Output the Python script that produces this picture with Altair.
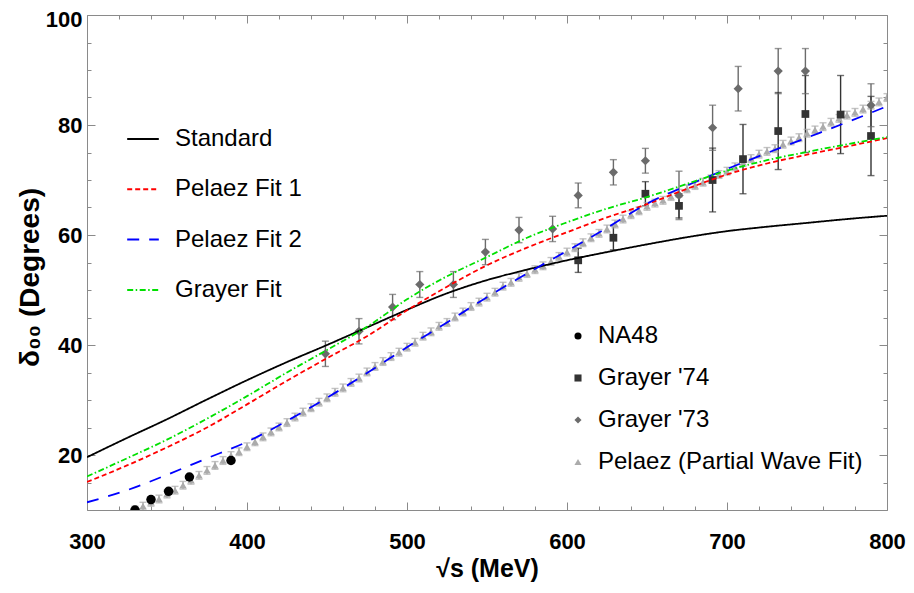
import altair as alt
import pandas as pd

FONT = "Liberation Sans"
GRAY_AX = "#8a8a8a"
PW, PH = 800, 495

# ---------------- data ----------------
fit_x = [300, 325, 350, 375, 400, 425, 450, 475, 500, 525, 550, 575, 600, 625, 650, 675, 700, 725, 750, 775, 800]
standard = [19.6, 23.1, 26.5, 30.1, 33.6, 36.9, 40.0, 43.2, 46.4, 49.4, 51.8, 53.7, 55.4, 56.9, 58.3, 59.6, 60.7, 61.5, 62.2, 62.9, 63.5]
pelaez_fit1 = [15.1, 18.1, 21.4, 25.0, 29.2, 33.5, 37.6, 41.6, 46.3, 50.6, 54.5, 57.7, 60.5, 63.2, 65.6, 68.4, 71.0, 73.0, 74.6, 76.1, 77.6]
pelaez_fit2 = [11.4, 13.6, 16.4, 19.4, 22.4, 26.2, 30.4, 34.9, 39.6, 44.1, 48.7, 53.0, 57.1, 61.3, 65.7, 69.0, 72.0, 74.9, 77.7, 80.5, 83.4]
grayer_fit = [16.1, 19.4, 22.8, 26.6, 30.7, 35.0, 39.1, 43.3, 48.3, 52.5, 56.0, 59.5, 62.3, 64.8, 66.9, 69.3, 71.7, 73.6, 75.1, 76.5, 77.8]

na48_x = [330, 340, 351, 364, 390]
na48_y = [10.0, 11.9, 13.4, 16.0, 19.0]

grayer74_x = [607, 629, 649, 670, 691, 710, 732, 749, 771, 790]
grayer74_y = [55.4, 59.5, 67.5, 65.3, 70.0, 73.8, 78.9, 82.0, 81.9, 78.0]
grayer74_err = [2.2, 2.2, 2.2, 2.2, 5.8, 6.3, 7.0, 7.0, 7.1, 7.2]

grayer73_x = [449, 470, 491, 508, 529, 549, 570, 591, 607, 629, 649, 670, 691, 707, 732, 749, 790]
grayer73_y = [38.4, 42.5, 46.9, 51.0, 51.0, 56.9, 60.9, 61.1, 67.2, 71.4, 73.5, 67.2, 79.5, 86.6, 89.8, 89.8, 83.6]
grayer73_err = [2.3, 2.3, 2.3, 2.35, 2.35, 2.3, 2.3, 2.3, 2.25, 2.3, 2.25, 4.4, 4.1, 4.05, 4.1, 4.1, 3.9]

pwf_x = [330, 335, 340, 345, 350, 355, 360, 365, 370, 375, 380, 385, 390, 395, 400,
         405, 410, 415, 420, 425, 430, 435, 440, 445, 450, 455, 460, 465, 470, 475,
         480, 485, 490, 495, 500, 505, 510, 515, 520, 525, 530, 535, 540, 545, 550,
         555, 560, 565, 570, 575, 580, 585, 590, 595, 600, 605, 610, 615, 620, 625,
         630, 635, 640, 645, 650, 655, 660, 665, 670, 675, 680, 685, 690, 695, 700,
         705, 710, 715, 720, 725, 730, 735, 740, 745, 750, 755, 760, 765, 770, 775,
         780, 785, 790, 795, 800]
pwf_y = [10.0, 10.7, 11.4, 12.0, 12.9, 13.6, 14.5, 15.4, 16.3, 17.2, 18.1, 19.0, 19.9, 20.6, 21.5,
         22.4, 23.3, 24.2, 25.1, 25.9, 26.9, 27.8, 28.6, 29.6, 30.4, 31.4, 32.2, 33.2, 34.0, 35.1,
         36.1, 37.0, 37.9, 38.7, 39.6, 40.5, 41.6, 42.4, 43.4, 44.1, 45.1, 46.0, 47.0, 47.8, 48.7,
         49.6, 50.7, 51.4, 52.3, 53.0, 53.7, 54.4, 55.2, 56.1, 56.9, 57.7, 58.6, 59.5, 60.3, 61.1,
         62.0, 62.9, 63.7, 64.4, 65.2, 65.8, 66.3, 67.0, 67.6, 68.4, 69.0, 69.6, 70.2, 71.0, 71.6,
         72.4, 73.2, 73.9, 74.7, 75.2, 75.7, 76.5, 77.1, 77.7, 78.5, 79.1, 79.7, 80.5, 81.2, 81.8,
         82.3, 82.9, 83.6, 84.2, 85.0]
pwf_err = 0.7

x_major = [300, 400, 500, 600, 700, 800]
x_minor = [320, 340, 360, 380, 420, 440, 460, 480, 520, 540, 560, 580,
           620, 640, 660, 680, 720, 740, 760, 780]
y_major = [20, 40, 60, 80, 100]
y_minor = [10, 15, 25, 30, 35, 45, 50, 55, 65, 70, 75, 85, 90, 95]

fit_names = ["Standard", "Pelaez Fit 1", "Pelaez Fit 2", "Grayer Fit"]
fit_colors = ["#000000", "#ff0000", "#0000ff", "#00e000"]
fit_dashes = [[1, 0], [5, 3], [12, 10], [6, 2.5, 1.5, 2.5]]

pt_names = ["NA48", "Grayer '74", "Grayer '73", "Pelaez (Partial Wave Fit)"]
pt_colors = ["#000000", "#333333", "#6b6b6b", "#ababab"]
pt_shapes = ["circle", "square", "diamond", "triangle-up"]
pt_sizes = [90, 60, 85, 55]

# ---------------- tables ----------------
fits = pd.DataFrame({
    "x": fit_x * 4,
    "y": standard + pelaez_fit1 + pelaez_fit2 + grayer_fit,
    "fit": [n for n in fit_names for _ in fit_x],
})

frames = [
    (pwf_x, pwf_y, [pwf_err] * len(pwf_x), 3),
    (grayer73_x, grayer73_y, grayer73_err, 2),
    (grayer74_x, grayer74_y, grayer74_err, 1),
    (na48_x, na48_y, [0.0] * len(na48_x), 0),
]
pts = pd.concat([
    pd.DataFrame({"x": fx, "y": fy, "err": fe, "series": pt_names[i],
                  "col": pt_colors[i], "sz": pt_sizes[i]})
    for fx, fy, fe, i in frames
], ignore_index=True)
pts["lo"] = pts["y"] - pts["err"]
pts["hi"] = pts["y"] + pts["err"]
errs = pts[pts["err"] > 0]

xs = alt.Scale(domain=[300, 800], nice=False, zero=False)
ys = alt.Scale(domain=[10, 100], nice=False, zero=False)


def tick_axis(orient, offset, values, size):
    return alt.Axis(orient=orient, offset=offset, values=values, ticks=True, tickSize=size,
                    tickColor=GRAY_AX, tickWidth=1, labels=False, domain=False, grid=False,
                    title=None)


x_label_axis = alt.Axis(orient="bottom", values=x_major, ticks=False, tickSize=0, domain=False,
                        grid=False, labelFont=FONT, labelFontSize=22, labelFontWeight="bold",
                        labelColor="black", labelPadding=21, labelFlush=False, labelOverlap=False,
                        title="√s (MeV)", titleFont=FONT, titleFontSize=25, titleFontWeight="bold",
                        titleColor="black", titlePadding=4)
y_label_axis = alt.Axis(orient="left", values=y_major, ticks=False, tickSize=0, domain=False,
                        grid=False, labelFont=FONT, labelFontSize=22, labelFontWeight="bold",
                        labelColor="black", labelPadding=5,
                        labelOffset={"condition": {"test": "datum.value == 100", "value": 4}, "value": 0},
                        labelFlush=False, labelOverlap=False,
                        title="δ₀₀ (Degrees)", titleFont=FONT, titleFontSize=28, titleFontWeight="bold",
                        titleColor="black", titlePadding=1, titleY=262)

err_rules = alt.Chart(errs).mark_rule(strokeWidth=1.4, clip=True).encode(
    x=alt.X("x:Q", scale=xs, axis=x_label_axis),
    y=alt.Y("lo:Q", scale=ys, axis=y_label_axis),
    y2="hi:Q",
    color=alt.Color("col:N", scale=None),
)
caps_lo = alt.Chart(errs).mark_tick(orient="horizontal", size=7, thickness=1.4, clip=True).encode(
    x=alt.X("x:Q", scale=xs, axis=tick_axis("top", -PH, x_major, 8)),
    y=alt.Y("lo:Q", scale=ys, axis=tick_axis("right", -PW, y_major, 8)),
    color=alt.Color("col:N", scale=None),
)
caps_hi = alt.Chart(errs).mark_tick(orient="horizontal", size=7, thickness=1.4, clip=True).encode(
    x=alt.X("x:Q", scale=xs, axis=tick_axis("top", -PH, x_minor, 4)),
    y=alt.Y("hi:Q", scale=ys, axis=tick_axis("right", -PW, y_minor, 4)),
    color=alt.Color("col:N", scale=None),
)

pt_legend = alt.Legend(orient="none", legendX=479, legendY=309, title=None, symbolSize=50,
                       symbolStrokeWidth=0, labelFont=FONT, labelFontSize=24, labelColor="black",
                       labelOffset=8, rowPadding=18, padding=0, labelLimit=400)
points = alt.Chart(pts).mark_point(filled=True, opacity=1, strokeWidth=0, clip=True).encode(
    x=alt.X("x:Q", scale=xs, axis=tick_axis("bottom", -PH, x_major, 8)),
    y=alt.Y("y:Q", scale=ys, axis=tick_axis("left", -PW, y_major, 8)),
    fill=alt.Fill("series:N", scale=alt.Scale(domain=pt_names, range=pt_colors), legend=pt_legend),
    shape=alt.Shape("series:N", scale=alt.Scale(domain=pt_names, range=pt_shapes), legend=pt_legend),
    size=alt.Size("sz:Q", scale=None),
)

line_legend = alt.Legend(orient="none", legendX=39, legendY=107, title=None, symbolType="stroke",
                         symbolSize=1000, symbolStrokeWidth=2, labelFont=FONT, labelFontSize=24,
                         labelColor="black", labelOffset=15, rowPadding=21.3, padding=0, labelLimit=400)
lines = alt.Chart(fits).mark_line(strokeWidth=1.8, clip=True, interpolate="monotone").encode(
    x=alt.X("x:Q", scale=xs, axis=tick_axis("bottom", -PH, x_minor, 4)),
    y=alt.Y("y:Q", scale=ys, axis=tick_axis("left", -PW, y_minor, 4)),
    stroke=alt.Stroke("fit:N", scale=alt.Scale(domain=fit_names, range=fit_colors), legend=line_legend),
    strokeDash=alt.StrokeDash("fit:N", scale=alt.Scale(domain=fit_names, range=fit_dashes), legend=line_legend),
)

chart = (
    alt.layer(err_rules, caps_lo, caps_hi, points, lines)
    .resolve_axis(x="independent", y="independent")
    .properties(width=PW, height=PH, autosize=alt.AutoSizeParams(type="none"),
                padding={"left": 79, "top": 7, "right": 19, "bottom": 75})
    .configure_view(stroke=GRAY_AX, strokeWidth=1)
    .configure_axis(grid=False)
)

chart.save("out.html", embed_options={"renderer": "svg", "actions": False})
